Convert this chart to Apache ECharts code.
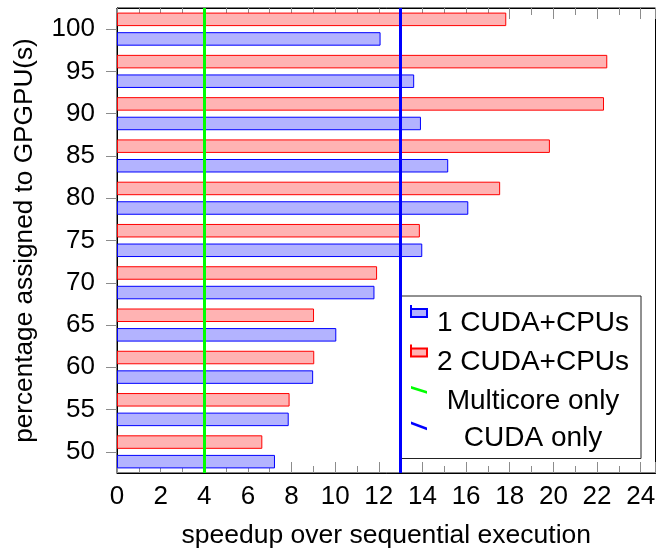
<!DOCTYPE html>
<html>
<head>
<meta charset="utf-8">
<script src="https://cdn.jsdelivr.net/npm/echarts@6/dist/echarts.min.js"></script>
<style>
html,body{margin:0;padding:0;background:#fff;}
#chart{width:656px;height:548px;}
</style>
</head>
<body>
<div id="chart"></div>
<script>
var categories = ['50','55','60','65','70','75','80','85','90','95','100'];
var oneCuda = [7.24, 7.87, 8.99, 10.05, 11.80, 13.99, 16.10, 15.18, 13.93, 13.62, 12.08];
var twoCuda = [6.66, 7.91, 9.04, 9.03, 11.92, 13.88, 17.56, 19.84, 22.32, 22.47, 17.84];
var multicoreOnly = 4;
var cudaOnly = 13;
var seriesNames = ['1 CUDA+CPUs', '2 CUDA+CPUs', 'Multicore only', 'CUDA only'];
var xAxisName = 'speedup over sequential execution';
var yAxisName = 'percentage assigned to GPGPU(s)';

var FONT = 'Liberation Sans';
var chart = echarts.init(document.getElementById('chart'), null, {renderer: 'canvas'});

var barIcon = 'path://M0,0 L0,4 M0,4 L16,4 L16,12 L0,12 Z M16,36 L16,36';
var greenIcon = 'path://M0,3 L16,8 L16,10.7 L0,5.7 Z M0,0 L0,0 M16,36 L16,36';
var blueIcon = 'path://M0,1 L16,7 L16,9.7 L0,3.7 Z M0,0 L0,0 M16,36 L16,36';

var xCommon = {
  type: 'value', min: 0, max: 24.68, interval: 2,
  splitLine: {show: false},
  axisLine: {show: true, lineStyle: {color: '#000', width: 1}},
  axisTick: {show: true, inside: true, length: 11, lineStyle: {color: '#8c8c8c', width: 1}},
  minorTick: {show: true, splitNumber: 2, length: 7, lineStyle: {color: '#8c8c8c', width: 1}},
  minorSplitLine: {show: false}
};

var option = {
  animation: false,
  textStyle: {fontFamily: FONT},
  grid: {left: 117, right: 0.5, top: 8, bottom: 75, containLabel: false, outerBoundsMode: 'none',
    show: true, borderColor: '#000', borderWidth: 1, backgroundColor: 'transparent'},
  xAxis: [
    Object.assign({}, xCommon, {
      position: 'bottom',
      name: xAxisName, nameLocation: 'middle', nameGap: 49,
      nameTextStyle: {fontSize: 26.5, color: '#000', fontFamily: FONT},
      axisLabel: {show: true, fontSize: 26, color: '#000', margin: 11, fontFamily: FONT}
    }),
    Object.assign({}, xCommon, {
      position: 'top',
      axisLabel: {show: false}
    })
  ],
  yAxis: {
    type: 'category', data: categories,
    name: yAxisName, nameLocation: 'middle', nameGap: 79, nameRotate: 90,
    nameTextStyle: {fontSize: 26.2, color: '#000', fontFamily: FONT},
    axisLine: {show: true, lineStyle: {color: '#000', width: 1}},
    axisTick: {show: true, alignWithLabel: true, inside: false, length: 11, lineStyle: {color: '#8c8c8c', width: 1}},
    axisLabel: {fontSize: 26, color: '#000', margin: 22, fontFamily: FONT},
    splitLine: {show: false}
  },
  legend: {
    orient: 'vertical',
    left: 401, top: 296,
    padding: [8, 7, 2, 9],
    itemWidth: 16, itemHeight: 36, itemGap: 1.5,
    backgroundColor: '#fff',
    borderColor: '#222', borderWidth: 1,
    selectedMode: false,
    formatter: '{a|{name}}',
    textStyle: {
      color: '#000', fontFamily: FONT, fontSize: 28,
      rich: {a: {width: 202, align: 'center', fontSize: 28, lineHeight: 30, color: '#000', fontFamily: FONT}}
    },
    data: [
      {name: seriesNames[0], icon: barIcon},
      {name: seriesNames[1], icon: barIcon},
      {name: seriesNames[2], icon: greenIcon, itemStyle: {color: '#00ff00', borderWidth: 0}},
      {name: seriesNames[3], icon: blueIcon, itemStyle: {color: '#0000ff', borderWidth: 0}}
    ]
  },
  series: [
    {
      name: seriesNames[1], type: 'bar', data: twoCuda,
      barWidth: 13.5, barGap: '45%',
      itemStyle: {color: '#ffb3b3', borderColor: '#ff0000', borderWidth: 1},
      emphasis: {disabled: true}, silent: true
    },
    {
      name: seriesNames[0], type: 'bar', data: oneCuda,
      barWidth: 13.5, barGap: '45%',
      itemStyle: {color: '#b3b3ff', borderColor: '#0000ff', borderWidth: 1},
      emphasis: {disabled: true}, silent: true
    },
    {
      name: seriesNames[2], type: 'line', data: [], color: '#00ff00',
      itemStyle: {color: '#00ff00'},
      markLine: {symbol: 'none', silent: true, label: {show: false},
        lineStyle: {color: '#00ff00', width: 3, type: 'solid'},
        data: [{xAxis: multicoreOnly}]}
    },
    {
      name: seriesNames[3], type: 'line', data: [], color: '#0000ff',
      itemStyle: {color: '#0000ff'},
      markLine: {symbol: 'none', silent: true, label: {show: false},
        lineStyle: {color: '#0000ff', width: 3, type: 'solid'},
        data: [{xAxis: cudaOnly}]}
    }
  ]
};
chart.setOption(option);
</script>
</body>
</html>
